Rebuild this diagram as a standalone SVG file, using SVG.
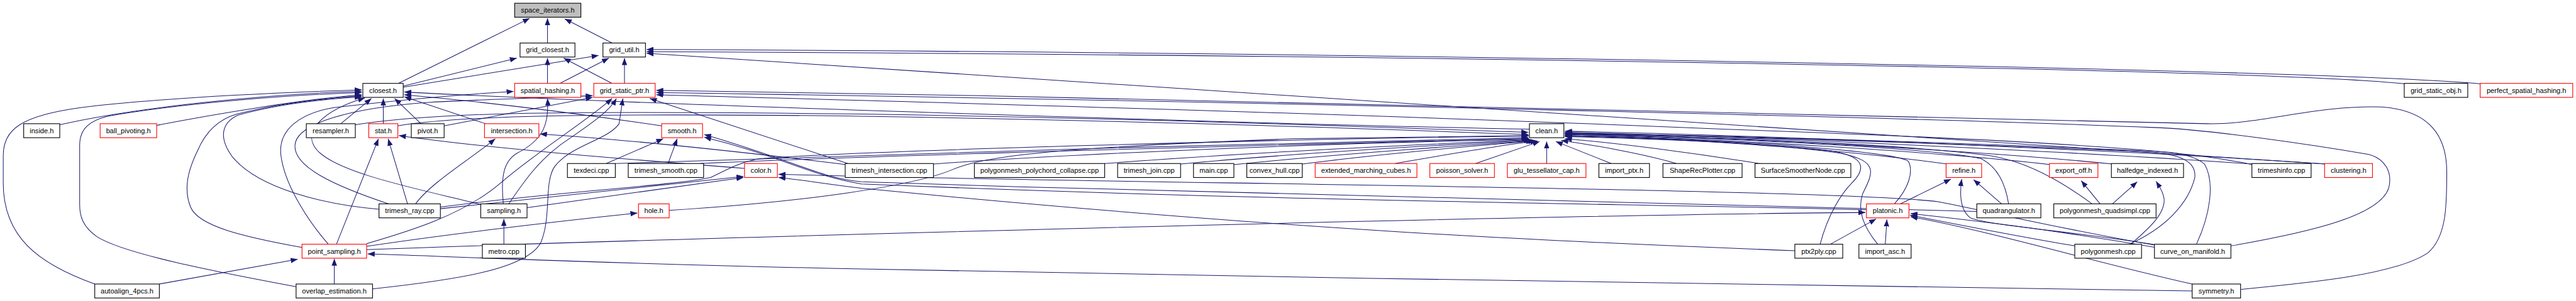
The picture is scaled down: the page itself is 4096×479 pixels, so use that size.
<svg xmlns="http://www.w3.org/2000/svg" width="4096" height="479" viewBox="0 0 4096 479">
<style>
.n rect{fill:#ffffff;stroke:#000000;stroke-width:1.3}
.r rect{stroke:#ff0000}
.g rect{fill:#bfbfbf}
text{font-family:"Liberation Sans",Arial,sans-serif;font-size:13px;text-anchor:middle;fill:#000}
.e path{fill:none;stroke:#191970;stroke-width:1.2;marker-end:url(#a)}
</style>
<defs>
<marker id="a" markerUnits="userSpaceOnUse" markerWidth="13" markerHeight="10" refX="13" refY="5" orient="auto"><path d="M0,0 L13,5 L0,10 z" fill="#191970"/></marker>
</defs>
<rect width="4096" height="479" fill="#fff"/>
<g transform="scale(0.856)">
<g id="edges" class="e">
<path d="M740,155 L984,34"/>
<path d="M1017,80 L1017,34"/>
<path d="M1137,80 L1049,35"/>
<path d="M749,160 L960,108"/>
<path d="M749,162 L1112,103"/>
<path d="M1017,155 L1017,108"/>
<path d="M1137,155 L1047,108"/>
<path d="M1040,155 L1131,108"/>
<path d="M1160,155 L1160,108"/>
<path d="M4468,156 C4250,130 2600,102 1201,96"/>
<path d="M4609,156 C4350,130 2600,98 1201,92"/>
<path d="M4320,305 L1201,99"/>
<path d="M111,232 C250,200 500,174 672,170"/>
<path d="M291,233 C400,212 560,185 672,176"/>
<path d="M176,528 C70,490 6,440 6,340 L6,290 C6,240 40,215 150,200 C300,182 520,172 672,167"/>
<path d="M550,533 C400,505 230,472 180,440 C152,420 148,400 148,380 L148,270 C148,238 168,224 200,216 C350,190 550,176 672,172"/>
<path d="M561,460 C450,440 368,420 354,385 C340,350 350,315 367,280 C382,245 405,222 440,212 C520,192 600,183 672,178"/>
<path d="M704,389 C600,380 480,350 432,292 C405,255 412,228 442,214 C520,192 605,184 672,180"/>
<path d="M893,380 C780,352 625,322 588,278 C560,245 600,205 678,182"/>
<path d="M633,230 L690,183"/>
<path d="M712,230 L712,183"/>
<path d="M782,230 L733,183"/>
<path d="M625,454 L703,258"/>
<path d="M757,379 L721,258"/>
<path d="M772,379 C800,340 875,295 920,258"/>
<path d="M681,453 C760,430 860,400 930,340 C1000,280 1090,225 1137,183"/>
<path d="M681,458 C800,440 1000,415 1184,396"/>
<path d="M681,464 C1200,445 2800,400 3465,395"/>
<path d="M692,537 C850,520 980,500 1005,450 C1025,400 1010,340 1030,310 C1060,270 1130,260 1150,230 L1157,183"/>
<path d="M722,379 C620,345 545,310 548,270 C550,230 650,200 800,190 C900,185 1000,182 1101,178"/>
<path d="M610,454 C580,420 530,350 522,290 C515,240 560,210 620,200 C750,185 850,176 954,170"/>
<path d="M825,234 L1101,181"/>
<path d="M902,230 L751,180"/>
<path d="M1229,234 C1000,200 850,185 751,176"/>
<path d="M2841,240 C2400,232 1200,195 751,171"/>
<path d="M660,232 C800,210 1000,205 1600,212 C2200,222 2600,238 2839,246"/>
<path d="M739,234 C850,215 1100,210 1600,216 C2200,226 2600,242 2839,250"/>
<path d="M818,385 C1000,360 1250,345 1320,330 C1360,310 1380,300 1412,295 C1600,280 2400,258 2839,253"/>
<path d="M1143,304 C1400,292 2400,265 2839,256"/>
<path d="M1300,304 C1600,290 2400,268 2840,258"/>
<path d="M1734,305 C2000,285 2500,265 2842,259"/>
<path d="M2052,304 C2300,285 2600,270 2843,260"/>
<path d="M2193,305 C2400,285 2700,268 2845,261"/>
<path d="M2292,306 C2500,285 2750,268 2848,262"/>
<path d="M2419,305 C2600,282 2780,268 2852,262"/>
<path d="M2591,304 C2700,285 2800,268 2856,262"/>
<path d="M2741,304 L2860,263"/>
<path d="M2873,304 L2873,263"/>
<path d="M2993,304 L2890,263"/>
<path d="M3114,304 C3050,285 2950,268 2900,261"/>
<path d="M3274,305 C3150,285 3000,265 2907,258"/>
<path d="M3617,305 C3450,282 3200,260 2907,252"/>
<path d="M3809,306 C3600,282 3200,258 2907,250"/>
<path d="M3924,305 C3700,282 3250,256 2907,248"/>
<path d="M4185,305 C3900,285 3300,255 2907,246"/>
<path d="M4320,305 C4000,282 3300,252 2907,244"/>
<path d="M3519,379 C3545,350 3555,320 3545,300 C3530,285 3300,262 2907,252"/>
<path d="M3381,454 C3395,400 3420,360 3440,340 C3470,310 3460,290 3400,280 C3300,268 3100,258 2907,254"/>
<path d="M3488,454 C3460,420 3450,390 3460,360 C3480,320 3490,300 3420,285 C3300,268 3100,256 2907,253"/>
<path d="M3731,379 C3725,340 3710,310 3680,295 C3620,280 3300,258 2907,250"/>
<path d="M3886,379 C3820,330 3760,300 3700,290 C3600,275 3300,256 2907,249"/>
<path d="M3955,454 C4020,425 4065,380 4077,330 C4080,300 4050,288 4000,283 C3700,270 3300,255 2907,248"/>
<path d="M4080,454 C4105,400 4115,340 4095,305 C4075,288 4040,283 4000,281 C3700,268 3300,254 2907,247"/>
<path d="M4145,457 C4300,430 4420,400 4437,350 C4445,320 4430,295 4400,287 C4300,270 4100,240 4000,237 C3600,220 2400,190 1219,172"/>
<path d="M4163,538 C4300,525 4450,510 4510,470 C4545,440 4545,380 4545,320 C4545,240 4500,205 4425,199 C4300,195 4200,232 4100,230 C3800,222 2400,185 1219,168"/>
<path d="M4185,306 C4100,290 4000,268 3200,240 C2400,207 1600,187 1219,176"/>
<path d="M4004,456 C3800,420 3680,390 3600,375 C3400,350 2000,340 1446,324"/>
<path d="M3334,466 C2900,450 2400,428 1600,350 C1520,340 1480,333 1446,330"/>
<path d="M3672,393 C3500,385 2500,368 1600,338 C1520,330 1480,300 1308,250"/>
<path d="M3467,390 C3000,378 2400,375 1600,342 C1500,325 1450,290 1308,255"/>
<path d="M3958,454 C3985,430 4022,400 4020,370 C4018,355 4010,345 4005,337"/>
<path d="M3924,379 L3970,338"/>
<path d="M3901,379 L3866,336"/>
<path d="M3718,379 L3666,334"/>
<path d="M3530,379 L3624,333"/>
<path d="M4004,455 C3850,430 3700,420 3660,405 C3640,390 3640,360 3644,333"/>
<path d="M3400,454 L3485,407"/>
<path d="M3502,454 L3505,408"/>
<path d="M3854,457 C3750,440 3650,420 3548,400"/>
<path d="M4004,460 C3800,425 3650,408 3549,397"/>
<path d="M4072,528 C3900,490 3700,430 3549,403"/>
<path d="M4072,541 C3500,532 2400,517 1600,500 C1100,490 800,475 683,472"/>
<path d="M936,454 L936,407"/>
<path d="M621,528 L621,481"/>
<path d="M296,528 L553,482"/>
<path d="M1126,304 L1232,258"/>
<path d="M1241,304 L1258,258"/>
<path d="M1383,313 C1150,295 900,275 741,252"/>
<path d="M818,388 L1381,328"/>
<path d="M979,386 L1381,330"/>
<path d="M1575,304 L1207,183"/>
<path d="M1572,306 C1400,285 1200,262 1003,249"/>
<path d="M1243,391 C1500,375 1700,345 1770,315 C1830,290 1950,275 2400,258 L2840,252"/>
<path d="M935,379 C930,330 935,300 960,285 C1010,260 1020,230 1017,183"/>
<path d="M945,379 C975,335 1000,300 1040,270 C1090,235 1130,210 1145,183"/>
</g>
<g id="n_space" class="n g"><rect x="956" y="6" width="123" height="26"/><text x="1017.5" y="23.5">space_iterators.h</text></g>
<g id="n_gclosest" class="n"><rect x="966" y="80" width="102" height="26"/><text x="1017" y="97.5">grid_closest.h</text></g>
<g id="n_gutil" class="n"><rect x="1120" y="80" width="79" height="26"/><text x="1159.5" y="97.5">grid_util.h</text></g>
<g id="n_closest" class="n"><rect x="674" y="155" width="75" height="26"/><text x="711.5" y="172.5">closest.h</text></g>
<g id="n_shash" class="n r"><rect x="956" y="155" width="123" height="26"/><text x="1017.5" y="172.5">spatial_hashing.h</text></g>
<g id="n_gsptr" class="n r"><rect x="1103" y="155" width="114" height="26"/><text x="1160" y="172.5">grid_static_ptr.h</text></g>
<g id="n_gsobj" class="n"><rect x="4466" y="155" width="118" height="26"/><text x="4525" y="172.5">grid_static_obj.h</text></g>
<g id="n_psh" class="n r"><rect x="4607" y="155" width="172" height="26"/><text x="4693" y="172.5">perfect_spatial_hashing.h</text></g>
<g id="n_inside" class="n"><rect x="44" y="230" width="67" height="26"/><text x="77.5" y="247.5">inside.h</text></g>
<g id="n_ball" class="n r"><rect x="186" y="230" width="105" height="26"/><text x="238.5" y="247.5">ball_pivoting.h</text></g>
<g id="n_resampler" class="n"><rect x="569" y="230" width="91" height="26"/><text x="614.5" y="247.5">resampler.h</text></g>
<g id="n_stat" class="n r"><rect x="685" y="230" width="54" height="26"/><text x="712" y="247.5">stat.h</text></g>
<g id="n_pivot" class="n"><rect x="764" y="230" width="61" height="26"/><text x="794.5" y="247.5">pivot.h</text></g>
<g id="n_intersection" class="n r"><rect x="900" y="230" width="101" height="26"/><text x="950.5" y="247.5">intersection.h</text></g>
<g id="n_smooth" class="n r"><rect x="1229" y="230" width="76" height="26"/><text x="1267" y="247.5">smooth.h</text></g>
<g id="n_clean" class="n"><rect x="2841" y="230" width="64" height="26"/><text x="2873" y="247.5">clean.h</text></g>
<g id="n_texdeci" class="n"><rect x="1054" y="304" width="89" height="26"/><text x="1098.5" y="321.5">texdeci.cpp</text></g>
<g id="n_tsmooth" class="n"><rect x="1167" y="304" width="140" height="26"/><text x="1237" y="321.5">trimesh_smooth.cpp</text></g>
<g id="n_color" class="n r"><rect x="1383" y="304" width="61" height="26"/><text x="1413.5" y="321.5">color.h</text></g>
<g id="n_tinter" class="n"><rect x="1570" y="304" width="164" height="26"/><text x="1652" y="321.5">trimesh_intersection.cpp</text></g>
<g id="n_ppc" class="n"><rect x="1810" y="304" width="242" height="26"/><text x="1931" y="321.5">polygonmesh_polychord_collapse.cpp</text></g>
<g id="n_tjoin" class="n"><rect x="2076" y="304" width="117" height="26"/><text x="2134.5" y="321.5">trimesh_join.cpp</text></g>
<g id="n_main" class="n"><rect x="2217" y="304" width="75" height="26"/><text x="2254.5" y="321.5">main.cpp</text></g>
<g id="n_chull" class="n"><rect x="2316" y="304" width="103" height="26"/><text x="2367.5" y="321.5">convex_hull.cpp</text></g>
<g id="n_emc" class="n r"><rect x="2443" y="304" width="189" height="26"/><text x="2537.5" y="321.5">extended_marching_cubes.h</text></g>
<g id="n_poisson" class="n r"><rect x="2656" y="304" width="120" height="26"/><text x="2716" y="321.5">poisson_solver.h</text></g>
<g id="n_glu" class="n r"><rect x="2800" y="304" width="146" height="26"/><text x="2873" y="321.5">glu_tessellator_cap.h</text></g>
<g id="n_iptx" class="n"><rect x="2970" y="304" width="94" height="26"/><text x="3017" y="321.5">import_ptx.h</text></g>
<g id="n_shape" class="n"><rect x="3089" y="304" width="147" height="26"/><text x="3162.5" y="321.5">ShapeRecPlotter.cpp</text></g>
<g id="n_surf" class="n"><rect x="3260" y="304" width="178" height="26"/><text x="3349" y="321.5">SurfaceSmootherNode.cpp</text></g>
<g id="n_refine" class="n r"><rect x="3615" y="304" width="66" height="26"/><text x="3648" y="321.5">refine.h</text></g>
<g id="n_eoff" class="n r"><rect x="3807" y="304" width="90" height="26"/><text x="3852" y="321.5">export_off.h</text></g>
<g id="n_half" class="n"><rect x="3922" y="304" width="134" height="26"/><text x="3989" y="321.5">halfedge_indexed.h</text></g>
<g id="n_tinfo" class="n"><rect x="4183" y="304" width="110" height="26"/><text x="4238" y="321.5">trimeshinfo.cpp</text></g>
<g id="n_clust" class="n r"><rect x="4318" y="304" width="89" height="26"/><text x="4362.5" y="321.5">clustering.h</text></g>
<g id="n_tray" class="n"><rect x="704" y="379" width="114" height="26"/><text x="761" y="396.5">trimesh_ray.cpp</text></g>
<g id="n_sampling" class="n"><rect x="893" y="379" width="86" height="26"/><text x="936" y="396.5">sampling.h</text></g>
<g id="n_hole" class="n r"><rect x="1186" y="379" width="57" height="26"/><text x="1214.5" y="396.5">hole.h</text></g>
<g id="n_plat" class="n r"><rect x="3467" y="379" width="79" height="26"/><text x="3506.5" y="396.5">platonic.h</text></g>
<g id="n_quad" class="n"><rect x="3672" y="379" width="119" height="26"/><text x="3731.5" y="396.5">quadrangulator.h</text></g>
<g id="n_pqs" class="n"><rect x="3815" y="379" width="190" height="26"/><text x="3910" y="396.5">polygonmesh_quadsimpl.cpp</text></g>
<g id="n_psamp" class="n r"><rect x="561" y="454" width="120" height="26"/><text x="621" y="471.5">point_sampling.h</text></g>
<g id="n_metro" class="n"><rect x="896" y="454" width="80" height="26"/><text x="936" y="471.5">metro.cpp</text></g>
<g id="n_ptx2ply" class="n"><rect x="3334" y="454" width="89" height="26"/><text x="3378.5" y="471.5">ptx2ply.cpp</text></g>
<g id="n_iasc" class="n"><rect x="3453" y="454" width="97" height="26"/><text x="3501.5" y="471.5">import_asc.h</text></g>
<g id="n_pmesh" class="n"><rect x="3854" y="454" width="124" height="26"/><text x="3916" y="471.5">polygonmesh.cpp</text></g>
<g id="n_com" class="n"><rect x="4002" y="454" width="142" height="26"/><text x="4073" y="471.5">curve_on_manifold.h</text></g>
<g id="n_auto" class="n"><rect x="176" y="528" width="120" height="26"/><text x="236" y="545.5">autoalign_4pcs.h</text></g>
<g id="n_overlap" class="n"><rect x="550" y="528" width="142" height="26"/><text x="621" y="545.5">overlap_estimation.h</text></g>
<g id="n_sym" class="n"><rect x="4072" y="528" width="90" height="26"/><text x="4117" y="545.5">symmetry.h</text></g>
</g>
</svg>
